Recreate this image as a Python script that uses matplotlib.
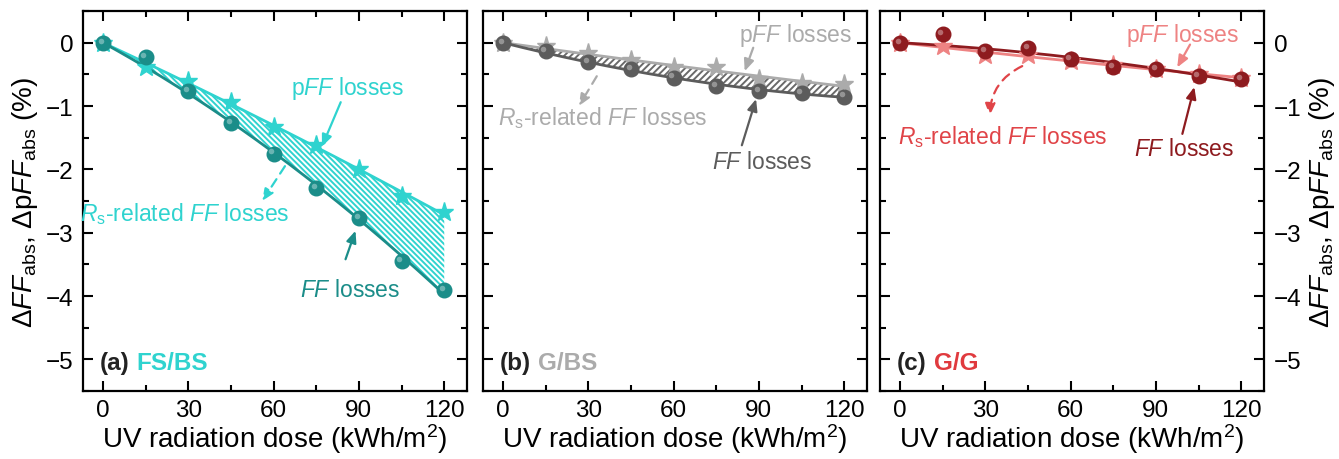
import numpy as np
import matplotlib
matplotlib.use("Agg")
import matplotlib.pyplot as plt
from matplotlib.ticker import MultipleLocator
from matplotlib.transforms import offset_copy

plt.rcParams['font.family'] = ['Liberation Sans', 'DejaVu Sans']
plt.rcParams['mathtext.fontset'] = 'custom'
plt.rcParams['mathtext.rm'] = 'Liberation Sans'
plt.rcParams['mathtext.it'] = 'Liberation Sans:italic'
plt.rcParams['mathtext.bf'] = 'Liberation Sans:bold'
plt.rcParams['hatch.linewidth'] = 1.4

# UV dose steps (kWh/m^2)
dose = [0, 15, 30, 45, 60, 75, 90, 105, 120]

# FS/BS modules
ff_fsbs = [0.0, -0.22, -0.76, -1.27, -1.75, -2.30, -2.77, -3.45, -3.90]
pff_fsbs = [0.0, -0.39, -0.60, -0.94, -1.33, -1.62, -2.00, -2.42, -2.68]

# G/BS modules
ff_gbs = [0.0, -0.13, -0.30, -0.42, -0.55, -0.69, -0.76, -0.80, -0.85]
pff_gbs = [0.0, -0.06, -0.16, -0.28, -0.39, -0.39, -0.58, -0.63, -0.66]

# G/G modules
ff_gg = [0.0, 0.13, -0.13, -0.09, -0.26, -0.39, -0.42, -0.52, -0.58]
pff_gg = [0.0, -0.05, -0.19, -0.20, -0.29, -0.36, -0.42, -0.50, -0.55]

panels = [
    dict(tag="(a)", name="FS/BS", ff=ff_fsbs, pff=pff_fsbs,
         c_ff="#1b8d89", c_pff="#2fd3cf", c_name="#2fd3cf", c_rs="#2fd3cf",
         c_hatch="#2fd3cf", hatch="\\" * 6,
         pff_txt=(86, -0.70), pff_arrow=((83.6, -0.94), (77, -1.64)),
         rs_txt=(28.7, -2.69), rs_arrow=((64, -1.95), (56, -2.5)), rs_rad=0.0,
         ff_txt=(87, -3.9), ff_arrow=((85.3, -3.42), (88.8, -2.97))),
    dict(tag="(b)", name="G/BS", ff=ff_gbs, pff=pff_gbs,
         c_ff="#5c5c5c", c_pff="#ababab", c_name="#ababab", c_rs="#ababab",
         c_hatch="#6a6a6a", hatch="/" * 5,
         pff_txt=(103, 0.13), pff_arrow=((88, -0.08), (85, -0.45)),
         rs_txt=(35, -1.17), rs_arrow=((33, -0.53), (26.7, -1.0)), rs_rad=0.0,
         ff_txt=(91, -1.88), ff_arrow=((84, -1.62), (89, -0.89))),
    dict(tag="(c)", name="G/G", ff=ff_gg, pff=pff_gg,
         c_ff="#8e1b1f", c_pff="#ee8383", c_name="#e03a3e", c_rs="#e04448",
         c_hatch="#ee8383", hatch=None,
         pff_txt=(99.5, 0.13), pff_arrow=((102, -0.03), (97.5, -0.39)),
         rs_txt=(36, -1.47), rs_arrow=((43, -0.37), (31.6, -1.15)), rs_rad=0.3,
         ff_txt=(100, -1.67), ff_arrow=((99.3, -1.44), (103.5, -0.70))),
]


def fit_through_origin(x, y, xs):
    """Least-squares quadratic trend constrained to start at zero loss."""
    x = np.asarray(x, float)
    A = np.column_stack([x, x ** 2])
    coef, *_ = np.linalg.lstsq(A, np.asarray(y, float), rcond=None)
    return coef[0] * xs + coef[1] * xs ** 2


fig = plt.figure(figsize=(13.39, 4.60), dpi=100)
lefts = [83 / 1339, 483 / 1339, 880 / 1339]
width = 384 / 1339
bottom = 68 / 460
height = 380 / 460

fs_tick = 17.5
fs_lab = 20
fs_ann = 16.5
fs_tag = 17.5

xs = np.linspace(0, 120, 300)

for i, p in enumerate(panels):
    ax = fig.add_axes([lefts[i], bottom, width, height])
    ax.set_xlim(-7, 128)
    ax.set_ylim(-5.5, 0.5)

    # fitted trend lines
    yf = fit_through_origin(dose, p["ff"], xs)
    yp = fit_through_origin(dose, p["pff"], xs)
    if p["hatch"]:
        ax.fill_between(xs, yf, yp, where=yp >= yf, facecolor="none",
                        edgecolor=p["c_hatch"], hatch=p["hatch"], linewidth=0)
    ax.plot(xs, yp, color=p["c_pff"], lw=2.0, zorder=3)
    ax.plot(xs, yf, color=p["c_ff"], lw=2.0, zorder=3)

    # markers
    ax.plot(dose, p["pff"], ls="none", marker="*", ms=14, color=p["c_pff"],
            mec=p["c_pff"], zorder=4)
    ax.plot(dose, p["ff"], ls="none", marker="o", ms=10.5, color=p["c_ff"],
            mec=p["c_ff"], zorder=5)
    hl = offset_copy(ax.transData, fig=fig, x=-1.5, y=1.5, units="points")
    ax.plot(dose, p["ff"], ls="none", marker="o", ms=4, color="white",
            alpha=0.35, mec="none", transform=hl, zorder=6)

    # annotations
    ax.text(*p["pff_txt"], "p$FF$ losses", color=p["c_pff"], fontsize=fs_ann,
            ha="center", va="center", zorder=7)
    ax.annotate("", xy=p["pff_arrow"][1], xytext=p["pff_arrow"][0],
                arrowprops=dict(arrowstyle="-|>,head_length=0.7,head_width=0.3",
                                color=p["c_pff"], lw=1.6, shrinkA=0, shrinkB=0))
    ax.text(*p["rs_txt"], "$R_\\mathrm{s}$-related $FF$ losses", color=p["c_rs"],
            fontsize=fs_ann, ha="center", va="center", zorder=7)
    ax.annotate("", xy=p["rs_arrow"][1], xytext=p["rs_arrow"][0],
                arrowprops=dict(arrowstyle="-|>,head_length=0.7,head_width=0.3",
                                color=p["c_rs"], lw=1.6, ls=(0, (4, 3)),
                                shrinkA=0, shrinkB=0,
                                connectionstyle=f"arc3,rad={p['rs_rad']}"))
    ax.text(*p["ff_txt"], "$FF$ losses", color=p["c_ff"], fontsize=fs_ann,
            ha="center", va="center", zorder=7)
    ax.annotate("", xy=p["ff_arrow"][1], xytext=p["ff_arrow"][0],
                arrowprops=dict(arrowstyle="-|>,head_length=0.7,head_width=0.3",
                                color=p["c_ff"], lw=1.6, shrinkA=0, shrinkB=0))

    # panel tag
    t = ax.text(-1, -5.05, p["tag"], fontsize=fs_tag, fontweight="bold",
                color="#222222", ha="left", va="center")
    ax.annotate(p["name"], xy=(1, 0.5), xycoords=t, xytext=(5, 0),
                textcoords="offset points", fontsize=fs_tag, fontweight="bold",
                color=p["c_name"], ha="left", va="center")

    # axes styling
    ax.xaxis.set_major_locator(MultipleLocator(30))
    ax.xaxis.set_minor_locator(MultipleLocator(15))
    ax.yaxis.set_major_locator(MultipleLocator(1))
    ax.yaxis.set_minor_locator(MultipleLocator(0.5))
    ax.tick_params(which="both", direction="in", top=True, right=True,
                   width=1.5, labelsize=fs_tick, pad=7)
    ax.tick_params(axis="x", pad=6)
    ax.tick_params(which="major", length=7)
    ax.tick_params(which="minor", length=4)
    for s in ax.spines.values():
        s.set_linewidth(1.6)
    ax.set_xlabel("UV radiation dose (kWh/m$^2$)", fontsize=fs_lab, labelpad=0)
    ax.yaxis.set_major_formatter(plt.FuncFormatter(
        lambda v, _: f"{v:.0f}".replace("-", "\u2212")))
    ylab = "$\\Delta FF_\\mathrm{abs}$, $\\Delta$p$FF_\\mathrm{abs}$ (%)"
    if i == 0:
        ax.set_ylabel(ylab, fontsize=fs_lab, labelpad=4)
    elif i == 1:
        ax.tick_params(labelleft=False)
    else:
        ax.tick_params(labelleft=False, labelright=True)
        ax.yaxis.set_label_position("right")
        ax.set_ylabel(ylab, fontsize=fs_lab, labelpad=4, rotation=90)

fig.savefig("out.png", dpi=100)
